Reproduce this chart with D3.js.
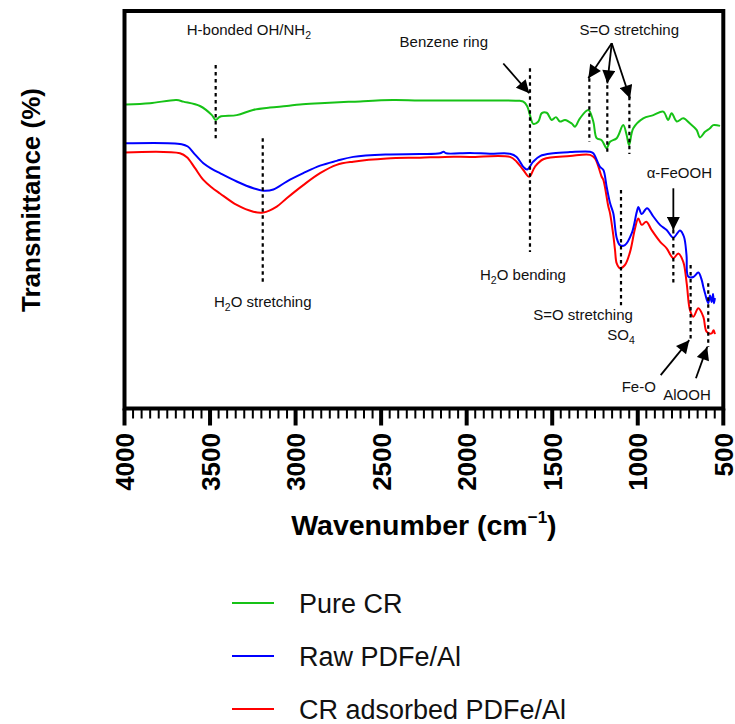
<!DOCTYPE html>
<html>
<head>
<meta charset="utf-8">
<script src="https://cdn.jsdelivr.net/npm/d3@7"></script>
<style>
  body { margin: 0; background: #fff; }
  svg { display: block; font-family: "Liberation Sans", Arial, sans-serif; }
</style>
</head>
<body>
<svg id="chart" width="735" height="724"></svg>
<script>
// ---------- data (wavenumber in cm-1, transmittance in arbitrary %) ----------
const pureCR_wn = [3991,3851,3695,3656,3559,3489,3467,3442,3344,3249,3150,3052,2974,2857,2664,2431,2273,1922,1689,1669,1647,1630,1611,1581,1561,1532,1503,1478,1455,1425,1386,1367,1338,1289,1260,1240,1211,1182,1162,1123,1085,1065,1051,1026,968,909,851,822,802,772,734,695,656,636,607,578,559,519];
const pureCR_T  = [76.5,76.8,77.6,77.2,76.1,73.8,72.6,73.4,73.8,75.1,75.7,76.1,76.5,76.8,77.2,77.6,77.5,77.5,77.4,77.2,76.1,73.8,71.6,72.2,74.3,74.4,72.6,73.3,72.2,72.6,71.7,70.9,73.0,75.1,72.2,68.0,67.5,65.5,67.1,68.0,71.3,68.8,66.3,70.5,73.0,73.8,74.7,72.6,74.3,72.2,73.0,71.7,70.1,68.2,69.6,70.5,71.3,71.1];

const raw_wn = [4000,3666,3630,3590,3539,3490,3442,3344,3247,3189,3130,3052,2955,2857,2760,2663,2467,2273,2156,2135,2120,1981,1864,1747,1708,1669,1647,1611,1571,1494,1396,1279,1260,1221,1201,1182,1162,1143,1123,1104,1075,1035,1006,996,977,946,909,870,831,792,753,730,715,705,675,646,626,617,607,588,578,568,560,555,549];
const raw_T  = [66.7,66.5,65.9,64.0,61.7,60.3,59.2,57.1,55.4,54.8,55.1,57.1,59.2,61.1,62.3,63.3,63.9,64.0,64.2,64.6,64.2,64.3,64.1,64.1,63.3,60.8,60.1,62.1,63.5,64.2,64.5,64.6,64.2,60.8,60.0,55.8,51.7,49.1,42.9,41.1,41.1,44.1,49.4,50.7,48.9,50.4,48.3,46.2,44.9,43.0,44.8,43.2,38.6,33.2,33.1,34.2,32.3,30.6,29.0,26.5,28.4,26.8,28.8,26.5,27.8];

const ads_wn = [4000,3676,3635,3590,3539,3490,3442,3344,3247,3189,3110,3052,2955,2857,2760,2663,2467,2273,2127,1981,1747,1708,1669,1634,1601,1552,1396,1279,1250,1211,1201,1172,1162,1143,1133,1123,1104,1075,1045,1016,997,977,950,919,870,831,792,763,734,714,695,675,646,617,597,568,557,549];
const ads_T  = [64.4,64.2,63.2,60.6,57.5,55.6,54.1,51.2,49.5,49.3,50.8,52.9,56.2,59.2,61.3,62.1,62.9,63.1,63.3,63.3,63.3,62.1,60.0,58.3,60.8,62.7,63.5,63.8,62.9,58.3,57.5,50.8,49.1,43.6,39.9,36.5,35.3,36.1,39.4,45.3,47.8,46.2,47.0,44.9,42.0,40.3,37.8,39.0,36.9,31.5,24.8,23.1,25.2,23.1,19.3,18.9,19.7,18.7];

const seriesNames  = ["Pure CR", "Raw PDFe/Al", "CR adsorbed PDFe/Al"];
const seriesColors = ["#16c216", "#0000ff", "#ff0000"];

const majorTicks = [4000,3500,3000,2500,2000,1500,1000,500];

// annotation guides: [wavenumber, T from, T to]
const guideWn  = [3467, 3192, 1630, 1283, 1178, 1049, 1098, 792, 691, 588];
const guideT1  = [86.4, 68.0, 85.6, 83.1, 83.1, 78.4, 55.0, 44.9, 36.1, 31.5];
const guideT2  = [68.0, 31.9, 39.4, 67.1, 64.0, 64.0, 26.0, 31.1, 17.2, 15.5];

// arrows: from (wn,T) to (wn,T)
const arrowFromWn = [1786, 1152, 1152, 1152, 792, 866, 660];
const arrowFromT  = [86.8, 91.9, 91.9, 91.9, 55.4, 8.4, 7.6];
const arrowToWn   = [1634, 1289, 1178, 1045, 792, 699, 594];
const arrowToT    = [79.3, 83.1, 81.8, 78.0, 44.9, 17.2, 15.5];

// labels: [main text, subscript, trailing text], anchor (wn,T)
const labelMain = ["H-bonded OH/NH", "Benzene ring", "S=O stretching", "α-FeOOH", "H", "S=O stretching", "SO", "Fe-O", "AlOOH", "H"];
const labelSub  = ["2", "", "", "", "2", "", "4", "", "", "2"];
const labelTail = ["", "", "", "", "O bending", "", "", "", "", "O stretching"];
const labelWn   = [3636, 2392, 1341, 948, 1922, 1611, 1178, 1094, 851, 3477];
const labelT    = [94.0, 91.0, 94.0, 57.9, 32.3, 22.3, 17.2, 4.2, 2.1, 25.6];

// ---------- layout ----------
const svg = d3.select("#chart");
const X0 = 124.5, X1 = 723.3, Y0 = 11, Y1 = 408.5;

const x = d3.scaleLinear().domain([4000, 500]).range([X0, X1]);
const y = d3.scaleLinear().domain([0, 100]).range([Y1, Y0]);

// defs: arrow marker
svg.append("defs").append("marker")
  .attr("id", "ah")
  .attr("viewBox", "0 0 10 10")
  .attr("refX", 10).attr("refY", 5)
  .attr("markerWidth", 14).attr("markerHeight", 13)
  .attr("markerUnits", "userSpaceOnUse")
  .attr("orient", "auto")
  .append("path").attr("d", "M0,0 L10,5 L0,10 Z").attr("fill", "#000");

// series lines
const line = d3.line().x(d => x(d[0])).y(d => y(d[1])).curve(d3.curveCatmullRom.alpha(0.5));
const seriesData = [
  pureCR_wn.map((w, i) => [w, pureCR_T[i]]),
  raw_wn.map((w, i) => [w, raw_T[i]]),
  ads_wn.map((w, i) => [w, ads_T[i]])
];
// draw red first, then blue, then green
[2, 1, 0].forEach(k => {
  svg.append("path")
    .datum(seriesData[k])
    .attr("d", line)
    .attr("fill", "none")
    .attr("stroke", seriesColors[k])
    .attr("stroke-width", 2);
});

// dotted guides
svg.append("g").selectAll("line").data(guideWn).join("line")
  .attr("x1", d => x(d)).attr("x2", d => x(d))
  .attr("y1", (d, i) => y(guideT1[i])).attr("y2", (d, i) => y(guideT2[i]))
  .attr("stroke", "#000").attr("stroke-width", 2.2)
  .attr("stroke-dasharray", "3.5,3.5");

// arrows
svg.append("g").selectAll("line").data(arrowFromWn).join("line")
  .attr("x1", d => x(d)).attr("y1", (d, i) => y(arrowFromT[i]))
  .attr("x2", (d, i) => x(arrowToWn[i])).attr("y2", (d, i) => y(arrowToT[i]))
  .attr("stroke", "#000").attr("stroke-width", 1.8)
  .attr("marker-end", "url(#ah)");

// annotation labels
const lab = svg.append("g").selectAll("text").data(labelMain).join("text")
  .attr("x", (d, i) => x(labelWn[i]))
  .attr("y", (d, i) => y(labelT[i]))
  .attr("font-size", 15)
  .attr("fill", "#111");
lab.each(function(d, i) {
  const t = d3.select(this);
  t.append("tspan").text(d);
  if (labelSub[i]) {
    t.append("tspan").attr("font-size", 10.5).attr("dy", 4).text(labelSub[i]);
    if (labelTail[i]) t.append("tspan").attr("dy", -4).text(labelTail[i]);
  }
});

// frame
svg.append("rect")
  .attr("x", X0).attr("y", Y0)
  .attr("width", X1 - X0).attr("height", Y1 - Y0)
  .attr("fill", "none").attr("stroke", "#000").attr("stroke-width", 4);

// minor ticks
const minorTicks = d3.range(4000, 499, -50).filter(v => !majorTicks.includes(v));
svg.append("g").selectAll("line").data(minorTicks).join("line")
  .attr("x1", d => x(d)).attr("x2", d => x(d))
  .attr("y1", Y1).attr("y2", Y1 + 10)
  .attr("stroke", "#000").attr("stroke-width", 2);

// major ticks
svg.append("g").selectAll("line").data(majorTicks).join("line")
  .attr("x1", d => x(d)).attr("x2", d => x(d))
  .attr("y1", Y1).attr("y2", Y1 + 17)
  .attr("stroke", "#000").attr("stroke-width", 4);

// tick labels (rotated)
svg.append("g").selectAll("text").data(majorTicks).join("text")
  .attr("transform", d => `translate(${x(d) + 9.5},433) rotate(-90)`)
  .attr("text-anchor", "end")
  .attr("font-size", 26).attr("font-weight", "bold")
  .text(d => d);

// x axis title
const xt = svg.append("text")
  .attr("x", (X0 + X1) / 2).attr("y", 535)
  .attr("text-anchor", "middle")
  .attr("font-size", 28.5).attr("font-weight", "bold");
xt.append("tspan").text("Wavenumber (cm");
xt.append("tspan").attr("font-size", 17).attr("dy", -12).text("−1");
xt.append("tspan").attr("dy", 12).text(")");

// y axis title
svg.append("text")
  .attr("transform", "translate(40,200) rotate(-90)")
  .attr("text-anchor", "middle")
  .attr("font-size", 26).attr("font-weight", "bold")
  .text("Transmittance (%)");

// legend
const legY = [603, 656, 709];
seriesNames.forEach((n, i) => {
  svg.append("line")
    .attr("x1", 232).attr("x2", 274)
    .attr("y1", legY[i]).attr("y2", legY[i])
    .attr("stroke", seriesColors[i]).attr("stroke-width", 2);
  svg.append("text")
    .attr("x", 299).attr("y", legY[i] + 9.5)
    .attr("font-size", 27).attr("fill", "#111")
    .text(n);
});
</script>
</body>
</html>
